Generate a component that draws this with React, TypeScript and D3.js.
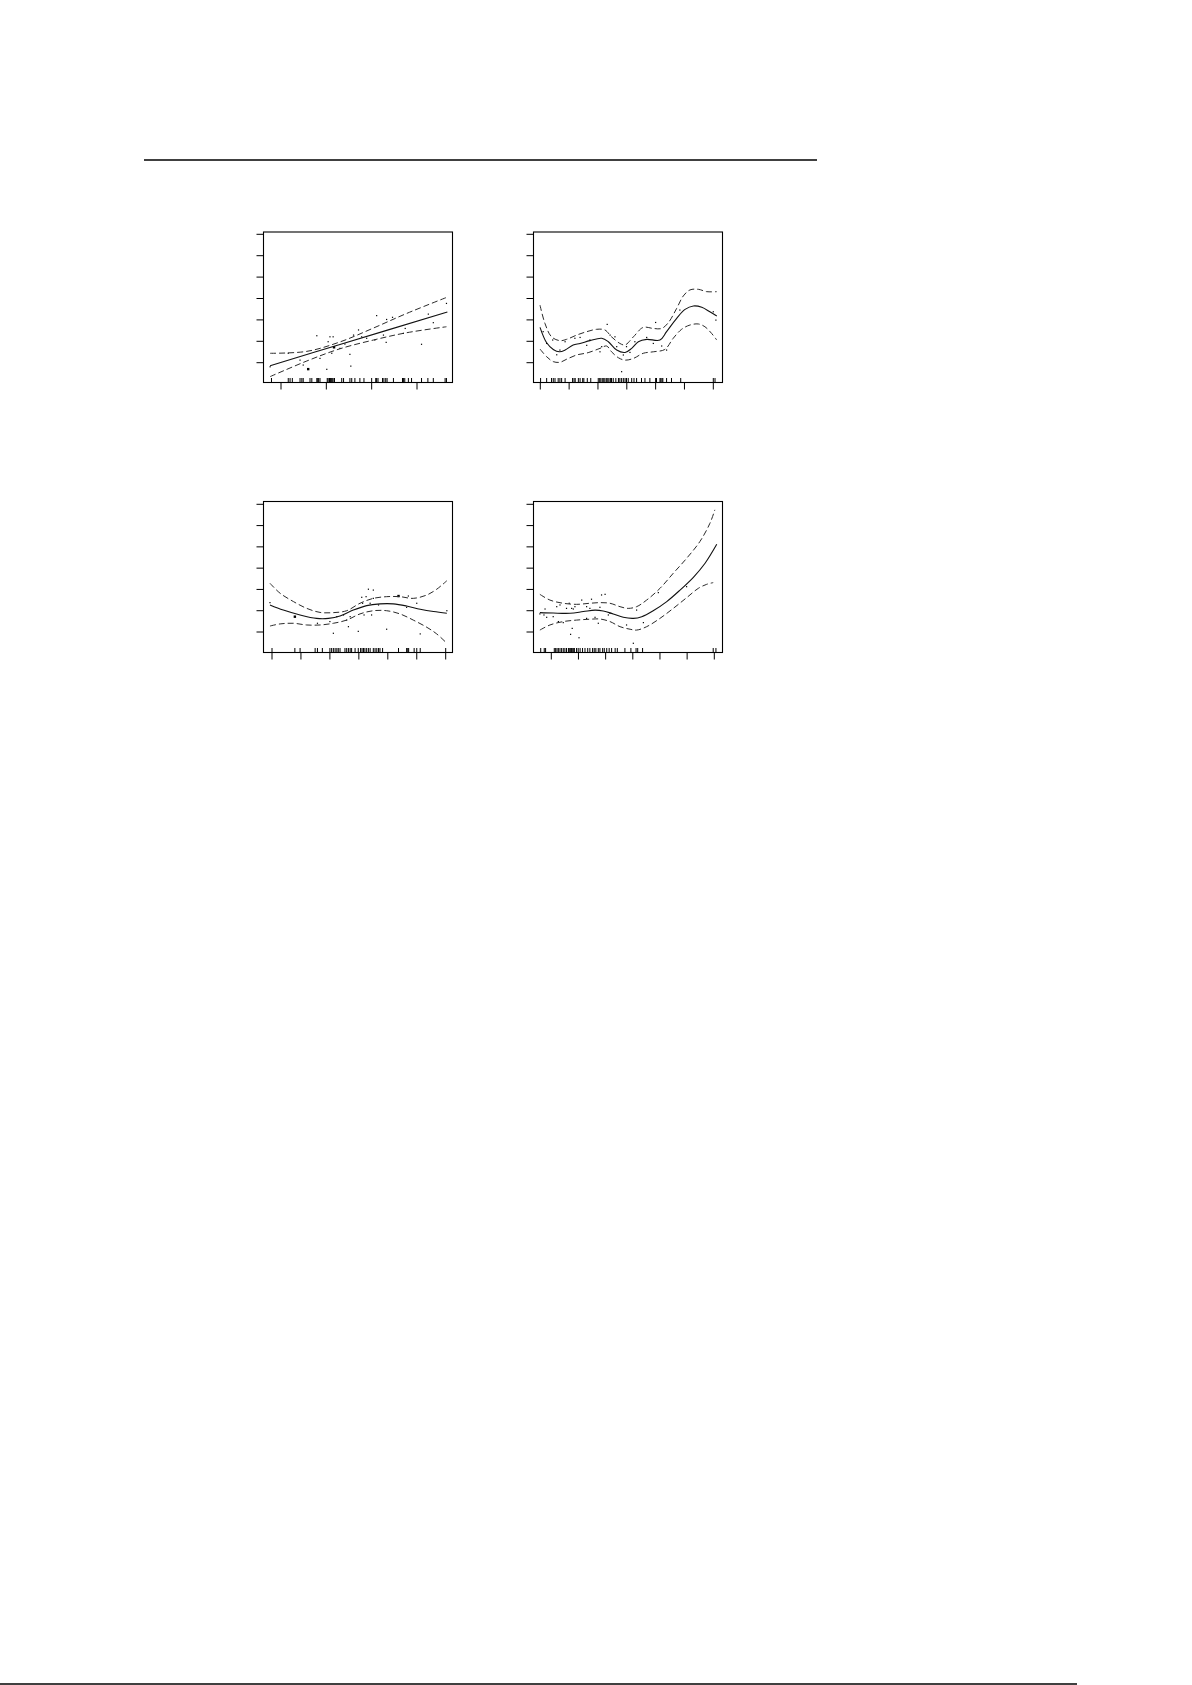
import * as d3 from 'd3';

type Pt = [number, number];

// tick positions (in tick units, no labels are printed)
const yTicks = [0, 1, 2, 3, 4, 5, 6];
const p1XTicks = [1, 2, 3, 4];
const p2XTicks = [0, 1, 2, 3, 4, 5, 6];
const p3XTicks = [0, 1, 2, 3, 4, 5, 6];
const p4XTicks = [0, 1, 2, 3, 4, 5, 6];

// panel 1 – linear term
const p1Fit: Pt[] = [[0.76, -0.14], [2.3, 0.85], [4.67, 2.37]];
const p1Upper: Pt[] = [[0.76, 0.44], [1.57, 0.53], [2.3, 0.97], [3.04, 1.62], [3.77, 2.3], [4.64, 3.04]];
const p1Lower: Pt[] = [[0.76, -0.65], [1.57, 0.08], [2.3, 0.65], [3.04, 1.06], [3.77, 1.4], [4.65, 1.68]];
const p1Points: Pt[] = [
  [0.76, -0.19], [1.16, 0.44], [1.42, 0.12], [1.49, -0.11], [1.6, -0.3], [1.79, 1.26], [1.86, 0.2],
  [2.01, -0.31], [2.04, 0.98], [2.08, 1.21], [2.15, 1.21], [2.17, 0.72], [2.12, 0.44], [2.3, 0.67],
  [2.41, 0.87], [2.52, 0.39], [2.54, -0.16], [2.6, 1.29], [2.71, 1.53], [2.78, 1.21], [2.89, 1.14],
  [3.07, 1.06], [3.11, 2.2], [3.26, 1.29], [3.33, 2.02], [3.32, 0.95], [3.46, 2.12], [3.7, 1.37],
  [3.74, 1.6], [4.1, 0.86], [4.25, 2.27], [4.36, 1.87], [4.65, 2.77],
];
const p1Big: Pt[] = [[1.6, -0.3], [2.17, 0.72]];
const p1Rug = [
  0.79, 1.16, 1.2, 1.25, 1.42, 1.46, 1.49, 1.64, 1.68, 1.79, 1.81, 1.83, 1.86, 2.02, 2.04, 2.07, 2.09,
  2.11, 2.13, 2.15, 2.18, 2.34, 2.38, 2.52, 2.56, 2.63, 2.74, 2.83, 3.0, 3.09, 3.11, 3.14, 3.24, 3.27,
  3.31, 3.34, 3.48, 3.68, 3.7, 3.73, 3.81, 3.88, 4.1, 4.24, 4.36, 4.62, 4.65,
];

// panel 2 – wiggly smooth
const p2Fit: Pt[] = [
  [-0.01, 1.65], [0.22, 0.93], [0.45, 0.62], [0.66, 0.51], [0.86, 0.59], [1.14, 0.83], [1.38, 0.9],
  [1.72, 1.03], [2.13, 1.14], [2.36, 0.98], [2.65, 0.59], [2.94, 0.48], [3.17, 0.67], [3.4, 0.98],
  [3.69, 1.09], [4.15, 1.06], [4.38, 1.45], [4.73, 2.07], [5.02, 2.49], [5.31, 2.65], [5.6, 2.59],
  [5.88, 2.38], [6.12, 2.18],
];
const p2Upper: Pt[] = [
  [-0.01, 2.69], [0.16, 1.84], [0.39, 1.21], [0.68, 1.03], [0.91, 1.09], [1.26, 1.29], [1.61, 1.45],
  [1.95, 1.56], [2.24, 1.53], [2.47, 1.21], [2.76, 0.9], [2.94, 0.83], [3.23, 1.21], [3.57, 1.65],
  [3.92, 1.6], [4.21, 1.6], [4.44, 1.87], [4.73, 2.54], [4.96, 3.12], [5.19, 3.4], [5.48, 3.43],
  [5.77, 3.32], [6.12, 3.32],
];
const p2Lower: Pt[] = [
  [-0.01, 0.64], [0.22, 0.28], [0.45, 0.05], [0.68, 0.02], [0.91, 0.16], [1.26, 0.36], [1.66, 0.47],
  [2.07, 0.67], [2.3, 0.78], [2.47, 0.51], [2.71, 0.23], [2.94, 0.12], [3.23, 0.2], [3.57, 0.44],
  [3.92, 0.51], [4.32, 0.62], [4.61, 1.14], [4.9, 1.56], [5.19, 1.76], [5.48, 1.81], [5.71, 1.68],
  [5.94, 1.37], [6.12, 1.06],
];
const p2Points: Pt[] = [
  [0.1, 1.45], [0.22, 0.9], [0.43, 1.06], [0.57, 0.37], [0.68, 0.59], [0.86, 0.98], [1.2, 1.14],
  [1.38, 1.18], [1.61, 0.81], [1.72, 1.06], [2.07, 0.51], [2.13, 0.75], [2.32, 1.79], [2.42, 1.29],
  [2.59, 1.21], [2.65, 0.75], [2.82, -0.42], [2.88, 0.36], [2.99, 0.75], [3.11, 0.48], [3.28, 0.98],
  [3.69, 1.18], [3.92, 0.9], [4.0, 1.88], [4.21, 0.78], [4.38, 0.59], [4.84, 2.46], [6.0, 2.38],
  [6.09, 1.99],
];
const p2Big: Pt[] = [];
const p2Rug = [
  0.01, 0.22, 0.39, 0.45, 0.51, 0.62, 0.68, 0.74, 0.86, 1.12, 1.17, 1.21, 1.32, 1.38, 1.47, 1.51, 1.63,
  1.75, 2.01, 2.06, 2.1, 2.15, 2.2, 2.24, 2.29, 2.34, 2.38, 2.43, 2.47, 2.53, 2.62, 2.71, 2.76, 2.82,
  2.88, 2.94, 2.99, 3.05, 3.17, 3.25, 3.34, 3.51, 3.63, 3.8, 4.0, 4.03, 4.15, 4.18, 4.22, 4.25, 4.38,
  4.55, 4.87, 6.0, 6.06,
];

// panel 3 – gentle hump
const p3Fit: Pt[] = [
  [-0.07, 1.27], [0.39, 1.03], [0.97, 0.8], [1.54, 0.64], [1.95, 0.64], [2.35, 0.75], [2.81, 1.03],
  [3.27, 1.24], [3.73, 1.32], [4.19, 1.32], [4.65, 1.22], [5.12, 1.07], [5.58, 0.96], [6.04, 0.88],
];
const p3Upper: Pt[] = [
  [-0.07, 2.29], [0.28, 1.82], [0.74, 1.43], [1.2, 1.11], [1.66, 0.92], [2.12, 0.91], [2.58, 1.0],
  [3.04, 1.35], [3.5, 1.58], [3.96, 1.66], [4.42, 1.66], [4.88, 1.58], [5.35, 1.74], [5.69, 2.01],
  [6.04, 2.41],
];
const p3Lower: Pt[] = [
  [-0.07, 0.28], [0.28, 0.38], [0.74, 0.41], [1.2, 0.33], [1.66, 0.33], [2.12, 0.41], [2.58, 0.56],
  [3.04, 0.85], [3.5, 1.0], [3.96, 1.0], [4.42, 0.85], [4.88, 0.56], [5.35, 0.22], [5.69, -0.09],
  [6.04, -0.53],
];
const p3Points: Pt[] = [
  [-0.07, 1.38], [0.79, 0.72], [1.57, 0.41], [2.0, 0.49], [2.12, -0.06], [2.24, 0.72], [2.47, 0.8],
  [2.58, 0.56], [2.64, 0.25], [2.7, 0.72], [2.98, 0.03], [3.1, 1.63], [3.13, 1.35], [3.18, 0.8],
  [3.25, 1.66], [3.33, 2.01], [3.39, 1.35], [3.44, 0.8], [3.5, 1.97], [3.5, 1.58], [3.68, 1.27],
  [3.96, 0.13], [4.37, 1.69], [4.65, 1.16], [4.71, 1.69], [5.0, 1.35], [5.12, -0.09], [6.04, 1.0],
];
const p3Big: Pt[] = [[0.79, 0.72], [4.37, 1.69]];
const p3Rug = [
  0.0, 0.79, 0.97, 1.49, 1.57, 1.74, 2.0, 2.06, 2.12, 2.18, 2.24, 2.29, 2.35, 2.52, 2.58, 2.64, 2.7,
  2.75, 2.87, 2.98, 3.06, 3.11, 3.16, 3.21, 3.27, 3.33, 3.39, 3.5, 3.56, 3.62, 3.68, 3.73, 3.82, 4.37,
  4.65, 4.69, 4.72, 4.91, 5.0, 5.12, 6.0,
];

// panel 4 – flat then rising
const p4Fit: Pt[] = [
  [-0.42, 0.91], [0.07, 0.89], [0.69, 0.88], [1.18, 0.96], [1.61, 1.03], [1.91, 0.99], [2.28, 0.85],
  [2.65, 0.69], [3.02, 0.64], [3.33, 0.72], [3.75, 1.0], [4.25, 1.43], [4.74, 1.97], [5.23, 2.57],
  [5.66, 3.23], [6.09, 4.12],
];
const p4Upper: Pt[] = [
  [-0.42, 1.77], [-0.05, 1.5], [0.44, 1.35], [0.93, 1.3], [1.42, 1.35], [1.79, 1.38], [2.16, 1.35],
  [2.53, 1.19], [2.83, 1.11], [3.14, 1.19], [3.51, 1.5], [4.0, 2.05], [4.49, 2.76], [4.98, 3.46],
  [5.47, 4.25], [5.84, 5.11], [6.02, 5.74],
];
const p4Lower: Pt[] = [
  [-0.42, 0.09], [-0.05, 0.33], [0.44, 0.49], [0.93, 0.56], [1.42, 0.6], [1.79, 0.61], [2.16, 0.49],
  [2.53, 0.25], [2.9, 0.13], [3.14, 0.09], [3.51, 0.25], [4.0, 0.64], [4.49, 1.11], [4.98, 1.61],
  [5.41, 2.05], [5.72, 2.24], [5.96, 2.32],
];
const p4Points: Pt[] = [
  [-0.42, 0.85], [-0.27, 0.8], [-0.23, 1.08], [-0.17, 0.69], [0.07, 0.72], [0.2, 1.19], [0.26, 0.49],
  [0.32, 1.27], [0.44, 0.44], [0.56, 1.11], [0.66, 1.35], [0.71, -0.11], [0.75, 1.11], [0.77, 0.17],
  [0.81, 1.08], [0.87, 1.19], [1.02, -0.27], [1.12, 1.5], [1.3, 1.19], [1.3, 0.64], [1.42, 1.11],
  [1.48, 1.54], [1.61, 0.69], [1.73, 0.41], [1.79, 1.16], [1.85, 1.74], [1.98, 1.77], [2.1, 0.8],
  [2.16, 0.88], [2.77, 0.33], [3.02, -0.53], [3.14, 1.03], [3.39, 0.44], [3.94, 1.85], [4.98, 2.13],
];
const p4Big: Pt[] = [];
const p4Rug = [
  -0.39, -0.26, -0.21, 0.11, 0.16, 0.21, 0.26, 0.32, 0.38, 0.44, 0.5, 0.56, 0.63, 0.66, 0.7, 0.74,
  0.77, 0.81, 0.85, 0.93, 0.99, 1.06, 1.15, 1.24, 1.34, 1.42, 1.52, 1.58, 1.64, 1.73, 1.79, 1.89,
  1.95, 2.04, 2.13, 2.22, 2.35, 2.43, 2.71, 2.93, 3.12, 3.18, 3.36, 5.96, 6.06,
];

interface Panel {
  box: [number, number, number, number]; // left, top, right, bottom (px)
  xTicks: number[];
  xTickPx: [number, number]; // pixel of first and last x tick
  yTickPx: [number, number]; // pixel of y=0 and y=6
  fit: Pt[];
  upper: Pt[];
  lower: Pt[];
  points: Pt[];
  big: Pt[];
  rug: number[];
}

const panels: Panel[] = [
  { box: [263.5, 232, 452.5, 382.5], xTicks: p1XTicks, xTickPx: [281, 417], yTickPx: [362.7, 234.3],
    fit: p1Fit, upper: p1Upper, lower: p1Lower, points: p1Points, big: p1Big, rug: p1Rug },
  { box: [533.5, 232, 722.5, 382.5], xTicks: p2XTicks, xTickPx: [540.3, 713.3], yTickPx: [362.7, 234.3],
    fit: p2Fit, upper: p2Upper, lower: p2Lower, points: p2Points, big: p2Big, rug: p2Rug },
  { box: [263.5, 501.5, 452.5, 652.5], xTicks: p3XTicks, xTickPx: [272, 445.7], yTickPx: [632, 504.3],
    fit: p3Fit, upper: p3Upper, lower: p3Lower, points: p3Points, big: p3Big, rug: p3Rug },
  { box: [533.5, 501.5, 722.5, 652.5], xTicks: p4XTicks, xTickPx: [551.3, 714.3], yTickPx: [632, 504.3],
    fit: p4Fit, upper: p4Upper, lower: p4Lower, points: p4Points, big: p4Big, rug: p4Rug },
];

function PanelView({ p }: { p: Panel }) {
  const [l, t, r, b] = p.box;
  const x = d3.scaleLinear()
    .domain([p.xTicks[0], p.xTicks[p.xTicks.length - 1]])
    .range(p.xTickPx);
  const y = d3.scaleLinear().domain([0, 6]).range(p.yTickPx);
  const line = d3.line<Pt>()
    .x((d) => x(d[0]))
    .y((d) => y(d[1]))
    .curve(d3.curveCatmullRom.alpha(0.5));

  return (
    <g>
      <clipPath id={`clip-${l}-${t}`}>
        <rect x={l} y={t} width={r - l} height={b - t} />
      </clipPath>
      <rect x={l} y={t} width={r - l} height={b - t} fill="none" stroke="#000" strokeWidth={1.1} />
      {yTicks.map((v) => (
        <line key={`y${v}`} x1={l - 7} x2={l} y1={y(v)} y2={y(v)} stroke="#000" strokeWidth={1} />
      ))}
      {p.xTicks.map((v) => (
        <line key={`x${v}`} x1={x(v)} x2={x(v)} y1={b} y2={b + 7} stroke="#000" strokeWidth={1} />
      ))}
      {p.rug.map((v, i) => (
        <line key={`r${i}`} x1={x(v)} x2={x(v)} y1={b - 4.5} y2={b} stroke="#000" strokeWidth={1} />
      ))}
      <g clipPath={`url(#clip-${l}-${t})`}>
        {p.points.map((d, i) => (
          <rect key={`p${i}`} x={x(d[0]) - 0.6} y={y(d[1]) - 0.6} width={1.2} height={1.2} fill="#000" />
        ))}
        {p.big.map((d, i) => (
          <rect key={`b${i}`} x={x(d[0]) - 1.2} y={y(d[1]) - 1.2} width={2.4} height={2.4} fill="#000" />
        ))}
        <path d={line(p.upper) ?? ''} fill="none" stroke="#2a2a2a" strokeWidth={1} strokeDasharray="6 3" />
        <path d={line(p.lower) ?? ''} fill="none" stroke="#2a2a2a" strokeWidth={1} strokeDasharray="6 3" />
        <path d={line(p.fit) ?? ''} fill="none" stroke="#111" strokeWidth={1.1} />
      </g>
    </g>
  );
}

export default function App() {
  return (
    <svg
      width={1192}
      height={1685}
      viewBox="0 0 1192 1685"
      style={{ position: 'absolute', left: 0, top: 0, background: '#fff' }}
    >
      <rect x={0} y={0} width={1192} height={1685} fill="#fff" />
      <line x1={144} x2={817} y1={160} y2={160} stroke="#000" strokeWidth={1.3} />
      {panels.map((p, i) => (
        <PanelView key={i} p={p} />
      ))}
      <line x1={0} x2={1077} y1={1684} y2={1684} stroke="#000" strokeWidth={1.3} />
    </svg>
  );
}
